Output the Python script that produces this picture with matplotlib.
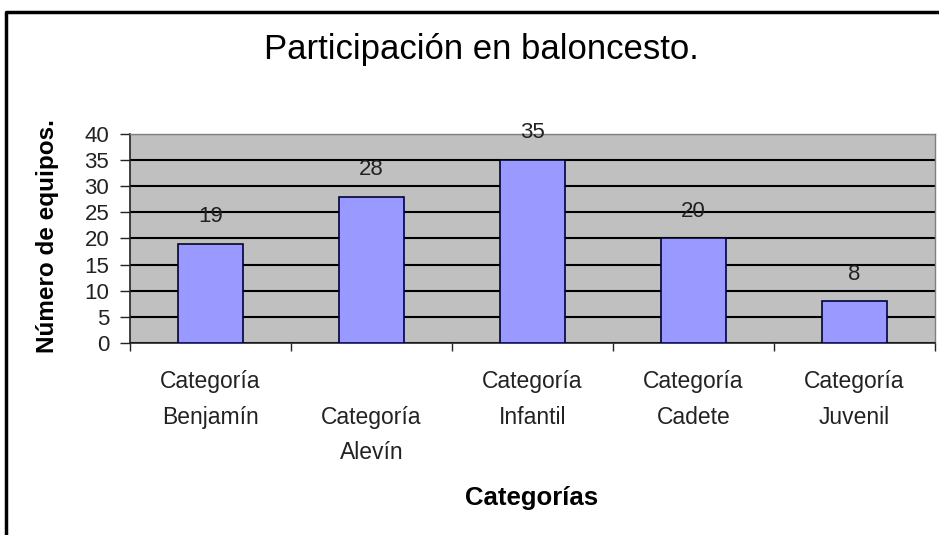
import matplotlib.pyplot as plt
from matplotlib.lines import Line2D
import numpy as np

plt.rcParams['font.family'] = ['Liberation Sans', 'DejaVu Sans']

# data
categorias = ['Categoría\nBenjamín', 'Categoría\nAlevín', 'Categoría\nInfantil',
              'Categoría\nCadete', 'Categoría\nJuvenil']
equipos = [19, 28, 35, 20, 8]
yticks = [0, 5, 10, 15, 20, 25, 30, 35, 40]

fig = plt.figure(figsize=(9.39, 5.35), dpi=100)
ax = fig.add_axes([130/939, (535-343)/535, 805/939, 209/535])
ax.set_facecolor('#c0c0c0')

x = np.arange(len(categorias))
ax.bar(x, equipos, width=0.4, color='#9999ff', edgecolor='#000040', linewidth=1.2, zorder=3)
for xi, v in zip(x, equipos):
    ax.annotate(str(v), (xi, v), xytext=(0, 12), textcoords='offset points',
                ha='center', va='bottom', fontsize=16, color='#222222')

ax.set_xlim(-0.5, len(categorias) - 0.5)
ax.set_ylim(0, 40)
ax.set_yticks(yticks)
ax.yaxis.grid(True, color='black', linewidth=1.5, zorder=1)
ax.set_axisbelow(True)
ax.tick_params(axis='y', labelsize=16, length=7, width=1, color='#222222', labelcolor='#222222', pad=8)

# boundaries between categories get ticks, labels sit at centers
ax.set_xticks(np.arange(len(categorias) + 1) - 0.5)
ax.set_xticklabels([])
ax.tick_params(axis='x', length=6, width=1, color='#222222')
for xi, lab in enumerate(categorias):
    ypos = -0.27 if xi != 1 else -0.44
    ax.text(xi, ypos, lab, transform=ax.get_xaxis_transform(), ha='center', va='center',
            fontsize=16.5, color='#222222', linespacing=1.7, multialignment='center')

for s in ['left', 'bottom']:
    ax.spines[s].set_color('#222222')
    ax.spines[s].set_linewidth(1.2)
for s in ['top', 'right']:
    ax.spines[s].set_color('#808080')
    ax.spines[s].set_linewidth(1)

fig.text(48/939, 1 - 236/535, 'Número de equipos.', rotation=90, ha='center', va='center',
         fontsize=17.5, fontweight='bold')
fig.text(532/939, 1 - 498/535, 'Categorías', ha='center', va='center',
         fontsize=18.5, fontweight='bold')
fig.text(481/939, 1 - 49/535, 'Participación en baloncesto.', ha='center', va='center',
         fontsize=25)

# outer frame (left and top edges visible)
fig.add_artist(Line2D([5.5/939, 5.5/939, 1.0], [0.0, 1 - 11.5/535, 1 - 11.5/535],
                      transform=fig.transFigure, color='black', linewidth=2.5))

fig.savefig('out.png', dpi=100)
